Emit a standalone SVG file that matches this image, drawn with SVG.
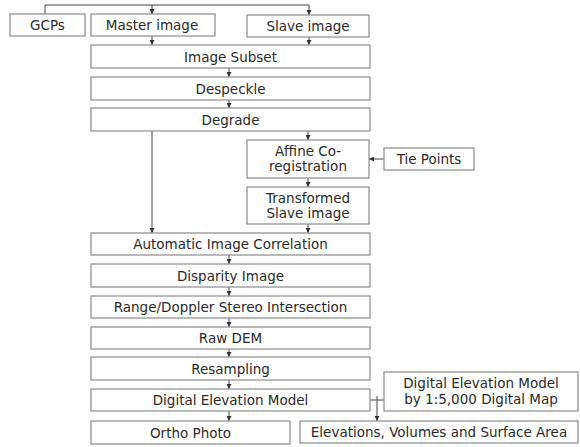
<svg xmlns="http://www.w3.org/2000/svg" width="580" height="447" viewBox="0 0 580 447">
  <style>
    .box { fill: #ffffff; stroke: #8a8a8a; stroke-width: 1.2; }
    .lbl { font-family: "DejaVu Sans", "Noto Sans", sans-serif; font-size: 13.5px; fill: #2a2a2a; text-anchor: middle; }
    .wire { fill: none; stroke: #444444; stroke-width: 1; }
  </style>
  <defs>
    <marker id="arr" viewBox="0 0 6 6" refX="6" refY="3" markerWidth="5" markerHeight="5" orient="auto">
      <path d="M0,0 L6,3 L0,6 z" fill="#333333"/>
    </marker>
  </defs>
  <rect width="580" height="447" fill="#ffffff"/>

  <!-- connectors -->
  <g id="connectors" class="wire">
    <path d="M45,14 V5 H309" />
    <path d="M152,5 V14" marker-end="url(#arr)"/>
    <path d="M309,5 V15" marker-end="url(#arr)"/>
    <path d="M152,36 V45" marker-end="url(#arr)"/>
    <path d="M309,37 V45" marker-end="url(#arr)"/>
    <path d="M229,68 V77" marker-end="url(#arr)"/>
    <path d="M229,100 V108" marker-end="url(#arr)"/>
    <path d="M152,131 V233" marker-end="url(#arr)"/>
    <path d="M308,131 V140" marker-end="url(#arr)"/>
    <path d="M384,159 H369" marker-end="url(#arr)"/>
    <path d="M308,178 V187" marker-end="url(#arr)"/>
    <path d="M308,224 V233" marker-end="url(#arr)"/>
    <path d="M229,255 V264" marker-end="url(#arr)"/>
    <path d="M229,287 V296" marker-end="url(#arr)"/>
    <path d="M229,318 V327" marker-end="url(#arr)"/>
    <path d="M229,349 V357" marker-end="url(#arr)"/>
    <path d="M229,380 V389" marker-end="url(#arr)"/>
    <path d="M229,411 V421" marker-end="url(#arr)"/>
    <path d="M370,400 H384"/>
    <path d="M377,396 V421" marker-end="url(#arr)"/>
  </g>

  <g id="gcps"><rect class="box" x="10" y="14" width="75" height="22"/><text class="lbl" x="47.5" y="30">GCPs</text></g>
  <g id="master"><rect class="box" x="91" y="14" width="124" height="22"/><text class="lbl" x="152" y="30">Master image</text></g>
  <g id="slave"><rect class="box" x="247" y="15" width="122" height="22"/><text class="lbl" x="308" y="31">Slave image</text></g>
  <g id="subset"><rect class="box" x="91" y="45" width="279" height="23"/><text class="lbl" x="230.5" y="61.5">Image Subset</text></g>
  <g id="despeckle"><rect class="box" x="91" y="77" width="279" height="23"/><text class="lbl" x="230.5" y="93.5">Despeckle</text></g>
  <g id="degrade"><rect class="box" x="91" y="108" width="279" height="23"/><text class="lbl" x="230.5" y="124.5">Degrade</text></g>
  <g id="affine"><rect class="box" x="247" y="140" width="122" height="38"/><text class="lbl" x="308" y="156">Affine Co-</text><text class="lbl" x="308" y="171">registration</text></g>
  <g id="tiepoints"><rect class="box" x="384" y="148" width="90" height="22"/><text class="lbl" x="429" y="164">Tie Points</text></g>
  <g id="transformed"><rect class="box" x="247" y="187" width="122" height="37"/><text class="lbl" x="308" y="203">Transformed</text><text class="lbl" x="308" y="218">Slave image</text></g>
  <g id="correlation"><rect class="box" x="91" y="233" width="279" height="22"/><text class="lbl" x="230.5" y="249">Automatic Image Correlation</text></g>
  <g id="disparity"><rect class="box" x="91" y="264" width="279" height="23"/><text class="lbl" x="230.5" y="280.5">Disparity Image</text></g>
  <g id="intersection"><rect class="box" x="91" y="296" width="279" height="22"/><text class="lbl" x="230.5" y="312">Range/Doppler Stereo Intersection</text></g>
  <g id="rawdem"><rect class="box" x="91" y="327" width="279" height="22"/><text class="lbl" x="230.5" y="343">Raw DEM</text></g>
  <g id="resampling"><rect class="box" x="91" y="357" width="279" height="23"/><text class="lbl" x="230.5" y="373.5">Resampling</text></g>
  <g id="dem"><rect class="box" x="91" y="389" width="279" height="22"/><text class="lbl" x="230.5" y="405">Digital Elevation Model</text></g>
  <g id="ortho"><rect class="box" x="91" y="421" width="199" height="23"/><text class="lbl" x="190.5" y="437.5">Ortho Photo</text></g>
  <g id="demmap"><rect class="box" x="384" y="372" width="194" height="39"/><text class="lbl" x="481" y="388">Digital Elevation Model</text><text class="lbl" x="481" y="403.5">by 1:5,000 Digital Map</text></g>
  <g id="elevations"><rect class="box" x="300" y="421" width="278" height="22"/><text class="lbl" x="439" y="437">Elevations, Volumes and Surface Area</text></g>
</svg>
